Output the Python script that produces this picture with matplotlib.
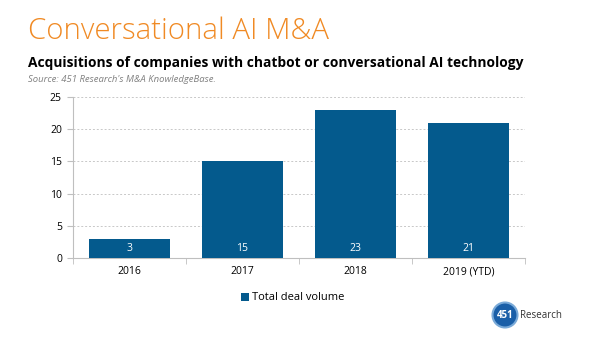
import matplotlib.pyplot as plt
from matplotlib.patches import Circle

categories = ['2016', '2017', '2018', '2019 (YTD)']
deals = [3, 15, 23, 21]
yticks = [0, 5, 10, 15, 20, 25]

bar_color = '#045A8D'
plt.rcParams['font.family'] = ['Open Sans', 'DejaVu Sans']

fig = plt.figure(figsize=(6, 3.4), dpi=100)
ax = fig.add_axes([73 / 600, 1 - 258 / 340, 452 / 600, 161 / 340])

x = list(range(len(categories)))
bars = ax.bar(x, deals, width=0.71, color=bar_color, label='Total deal volume', zorder=3)
for xi, v in zip(x, deals):
    ax.text(xi, 0.6, str(v), ha='center', va='bottom', color='white', fontsize=7.5, zorder=4)

ax.set_xlim(-0.5, len(categories) - 0.5)
ax.set_ylim(0, 25)
ax.set_yticks(yticks)
ax.set_xticks(x)
ax.set_xticklabels(categories)
ax.set_xticks([i - 0.5 for i in range(len(categories) + 1)], minor=True)
ax.tick_params(axis='x', which='major', length=0, labelsize=7.5, pad=6)
ax.tick_params(axis='x', which='minor', length=4, color='#bfbfbf', direction='out')
ax.tick_params(axis='y', length=4, color='#bfbfbf', labelsize=7.5, pad=4)
ax.yaxis.grid(True, linestyle=(0, (2, 2)), color='#c8c8c8', linewidth=0.7, zorder=0)
for s in ['top', 'right']:
    ax.spines[s].set_visible(False)
ax.spines['left'].set_color('#bfbfbf')
ax.spines['bottom'].set_color('#bfbfbf')

fig.legend(handles=[bars], loc='center', bbox_to_anchor=(293 / 600, 1 - 298 / 340),
           frameon=False, fontsize=8, handlelength=0.7, handleheight=0.7, handletextpad=0.3)

fig.text(28 / 600, 1 - 31 / 340, 'Conversational AI M&A', color='#F08A24', fontsize=21.2,
         fontweight='light', ha='left', va='center')
fig.text(28 / 600, 1 - 63 / 340, 'Acquisitions of companies with chatbot or conversational AI technology',
         color='black', fontsize=9.9, fontweight='bold', ha='left', va='center')
fig.text(28 / 600, 1 - 80 / 340, "Source: 451 Research's M&A KnowledgeBase.", color='#808080',
         fontsize=6.8, style='italic', ha='left', va='center')

# logo
lax = fig.add_axes([490 / 600, 1 - 330 / 340, 30 / 600, 30 / 340])
lax.set_xlim(0, 30)
lax.set_ylim(0, 30)
lax.axis('off')
lax.add_patch(Circle((15, 15), 12.5, facecolor='#1a5fa8', edgecolor='#7aaad8', linewidth=1.5))
lax.text(15, 15, '451', color='white', fontsize=7, ha='center', va='center', fontweight='bold')
fig.text(520 / 600, 1 - 315 / 340, 'Research', color='#333333', fontsize=7, ha='left', va='center')

fig.savefig('out.png', dpi=100)
